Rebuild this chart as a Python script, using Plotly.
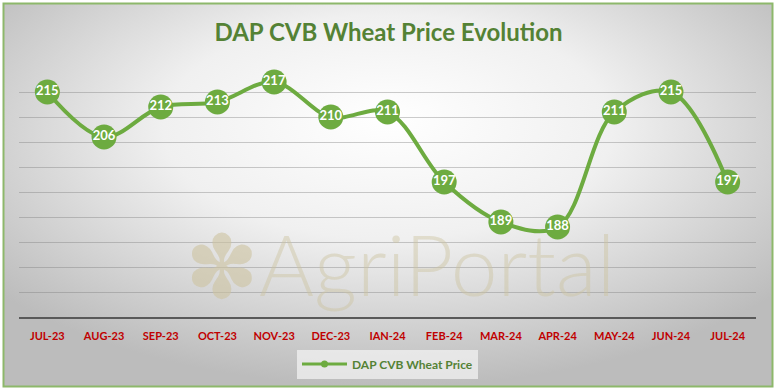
import plotly.graph_objects as go
import base64

months = ["JUL-23", "AUG-23", "SEP-23", "OCT-23", "NOV-23", "DEC-23", "IAN-24",
          "FEB-24", "MAR-24", "APR-24", "MAY-24", "JUN-24", "JUL-24"]
prices = [215, 206, 212, 213, 217, 210, 211, 197, 189, 188, 211, 215, 197]
series_name = "DAP CVB Wheat Price"
title_text = "DAP CVB Wheat Price Evolution"

W, H = 777, 391
ML, MR, MT, MB = 19, 21, 67, 74
PW, PH = W - ML - MR, H - MT - MB

GREEN = "#6DAB40"

svg = f'''<svg xmlns="http://www.w3.org/2000/svg" width="{W}" height="{H}" viewBox="0 0 {W} {H}" preserveAspectRatio="none">
<defs><radialGradient id="g" cx="50%" cy="35%" r="65%" fx="50%" fy="30%">
<stop offset="0%" stop-color="#ffffff"/><stop offset="45%" stop-color="#f0f0f0"/>
<stop offset="100%" stop-color="#bcbcbc"/></radialGradient></defs>
<rect x="0" y="0" width="{W}" height="{H}" fill="#ffffff"/>
<rect x="3.5" y="3.5" width="{W-8}" height="{H-8}" fill="url(#g)" stroke="#8DB86B" stroke-width="2"/>
</svg>'''
bg_uri = "data:image/svg+xml;base64," + base64.b64encode(svg.encode()).decode()

fig = go.Figure()
fig.add_trace(go.Scatter(
    x=months, y=prices, mode="lines+markers+text",
    line=dict(color=GREEN, width=4, shape="spline", smoothing=1.0),
    marker=dict(size=25, color=GREEN, line=dict(width=0)),
    text=[str(v) for v in prices], textposition="middle center",
    textfont=dict(family="Lato", size=13, color="white", weight="bold"),
    showlegend=False, cliponaxis=False, hoverinfo="x+y"))
fig.add_trace(go.Scatter(
    x=[None], y=[None], mode="lines+markers", name=series_name,
    line=dict(color=GREEN, width=3), marker=dict(size=7, color=GREEN)))

fig.add_annotation(text="AgriPortal", x=0.567, y=0.215, xref="paper", yref="paper",
                   showarrow=False, xanchor="center", yanchor="middle",
                   font=dict(family="Lato", size=84, color="rgba(205,195,160,0.45)", weight=300))
fig.add_annotation(text="✽", x=0.276, y=0.2, xref="paper", yref="paper",
                   showarrow=False, xanchor="center", yanchor="middle",
                   font=dict(family="DejaVu Sans", size=88, color="rgba(205,195,160,0.6)"))

fig.update_layout(
    width=W, height=H,
    margin=dict(l=ML, r=MR, t=MT, b=MB),
    paper_bgcolor="rgba(0,0,0,0)", plot_bgcolor="rgba(0,0,0,0)",
    images=[dict(source=bg_uri, xref="paper", yref="paper",
                 x=-ML / PW, y=1 + MT / PH, sizex=W / PW, sizey=H / PH,
                 xanchor="left", yanchor="top", sizing="stretch", layer="below")],
    title=dict(text=title_text, x=0.5, xanchor="center", y=1 - 33 / H, yanchor="middle",
               yref="container",
               font=dict(family="Lato", size=24, color="#548235", weight="bold")),
    xaxis=dict(type="category", range=[-0.5, len(months) - 0.5], showgrid=False,
               showline=True, linecolor="#595959", linewidth=2, ticks="",
               tickfont=dict(family="Lato", size=11, color="#C00000", weight="bold"),
               ticklabelstandoff=8, fixedrange=True),
    yaxis=dict(range=[170, 220], dtick=5, showticklabels=False, showgrid=True,
               gridcolor="rgba(120,120,120,0.38)", gridwidth=1, zeroline=False,
               fixedrange=True),
    legend=dict(orientation="h", x=0.5, xanchor="center", y=-0.188, yanchor="middle",
                bgcolor="rgba(245,245,245,0.7)",
                font=dict(family="Lato", size=12, color="#548235", weight="bold"),
                itemwidth=45),
    showlegend=True,
)

fig.write_html("out.html", config={"displayModeBar": False},
               post_script="document.body.style.margin='0';document.body.style.padding='0';")
